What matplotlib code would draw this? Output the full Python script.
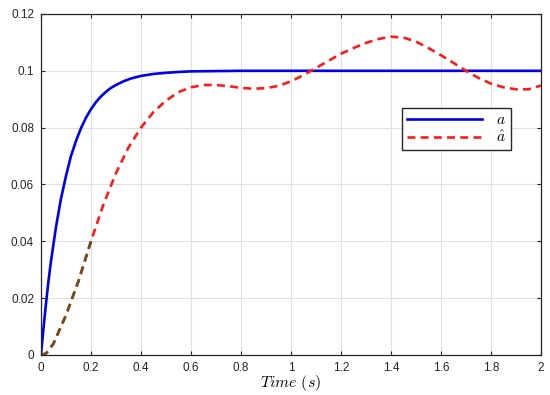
import numpy as np
import matplotlib
matplotlib.use('Agg')
from matplotlib import pyplot as plt

# values
t_a = [0, 0.01, 0.02, 0.03, 0.04, 0.05, 0.06, 0.07, 0.08, 0.09, 0.1, 0.12, 0.14,
       0.16, 0.18, 0.2, 0.22, 0.24, 0.26, 0.28, 0.3, 0.33, 0.36, 0.4, 0.45, 0.5,
       0.55, 0.6, 0.7, 0.8, 1.0, 1.5, 2.0]
a = [0, 0.0095, 0.018, 0.026, 0.033, 0.039, 0.045, 0.050, 0.055, 0.059, 0.063,
     0.070, 0.0753, 0.0798, 0.0835, 0.0865, 0.089, 0.091, 0.0926, 0.094, 0.095,
     0.0963, 0.0973, 0.0982, 0.0989, 0.0993, 0.0996, 0.0998, 0.0999, 0.1, 0.1,
     0.1, 0.1]

t_ahat = [0, 0.02, 0.05, 0.1, 0.15, 0.2, 0.25, 0.3, 0.35, 0.4, 0.45, 0.5, 0.55,
          0.6, 0.65, 0.7, 0.75, 0.8, 0.85, 0.9, 0.95, 1.0, 1.05, 1.1, 1.15, 1.2,
          1.25, 1.3, 1.35, 1.4, 1.45, 1.5, 1.55, 1.6, 1.65, 1.7, 1.75, 1.8, 1.85,
          1.9, 1.95, 2.0]
ahat = [0, 0.0005, 0.004, 0.014, 0.026, 0.040, 0.053, 0.064, 0.073, 0.080, 0.0855,
        0.0895, 0.0925, 0.0942, 0.095, 0.095, 0.0946, 0.094, 0.0937, 0.0939, 0.0947,
        0.0963, 0.0985, 0.101, 0.1035, 0.106, 0.108, 0.1098, 0.1112, 0.112, 0.1117,
        0.1103, 0.108, 0.1055, 0.1028, 0.1, 0.0975, 0.0955, 0.0942, 0.0935, 0.0935,
        0.0948]

xticks = np.arange(0, 2.01, 0.2)
xticklabels = ['0', '0.2', '0.4', '0.6', '0.8', '1', '1.2', '1.4', '1.6', '1.8', '2']
yticks = np.arange(0, 0.121, 0.02)
yticklabels = ['0', '0.02', '0.04', '0.06', '0.08', '0.1', '0.12']

plt.rcParams['mathtext.fontset'] = 'cm'
plt.rcParams['font.family'] = ['Liberation Sans', 'DejaVu Sans']

fig = plt.figure(figsize=(5.5, 3.95), dpi=100)
ax = fig.add_axes([0.0745, 0.1013, 0.909, 0.8633])

dash = (0, (3.0, 2.0))
ax.plot(t_a, a, c='#0000ee', lw=1.9, label='$a$')
ax.plot(t_ahat, ahat, c='#ff1a1a', lw=1.9, ls=dash, label=r'$\hat{a}$')

# the low part of the dashed curve looks brownish in the reference
n = 6
ax.plot(t_ahat[:n], ahat[:n], c='#6b5020', lw=1.9, ls=dash)

ax.set_xlim([0, 2])
ax.set_ylim([0, 0.12])
ax.set_xticks(xticks)
ax.set_xticklabels(xticklabels)
ax.set_yticks(yticks)
ax.set_yticklabels(yticklabels)

ax.grid(True, color='#e0e0e0', lw=0.8)
ax.set_axisbelow(True)
ax.tick_params(direction='in', top=True, right=True, length=3, width=0.8,
               labelsize=8.5, colors='#262626', pad=5)
for s in ax.spines.values():
    s.set_color('#262626')
    s.set_linewidth(0.9)

ax.set_xlabel(r'$Time\ (s)$', fontsize=11.5, labelpad=-1)

ax.legend(loc='upper right', bbox_to_anchor=(0.94, 0.724), borderaxespad=0,
          fontsize=11, fancybox=False, edgecolor='#262626', framealpha=1,
          handlelength=4.9, borderpad=0.35, labelspacing=0.15, handletextpad=0.9)

plt.savefig('out.png', dpi=100)
plt.close()
